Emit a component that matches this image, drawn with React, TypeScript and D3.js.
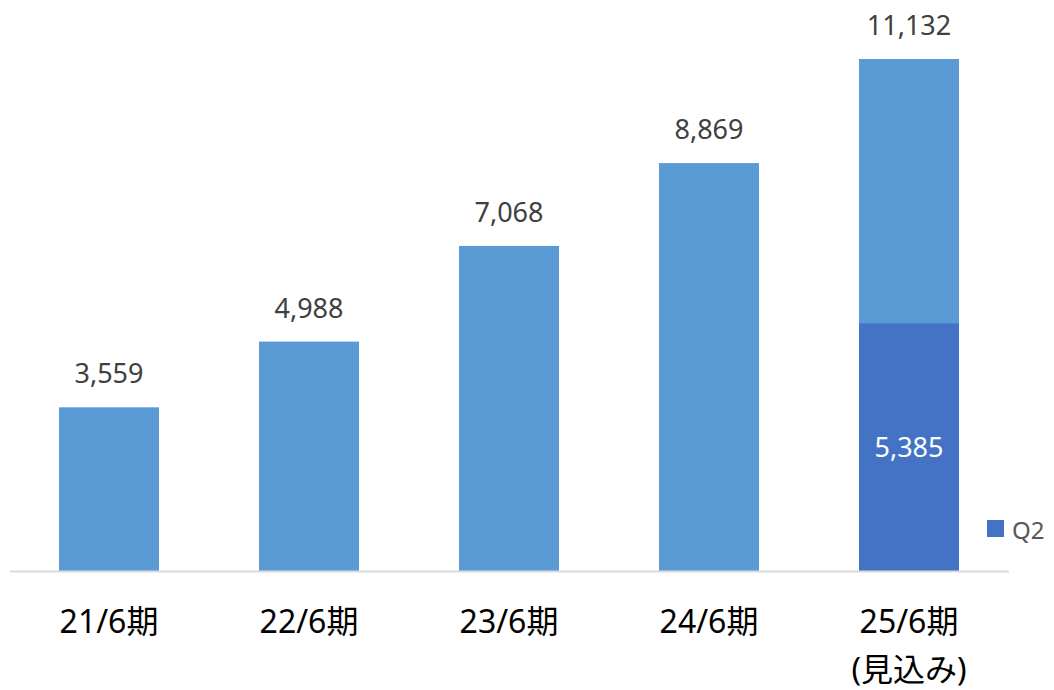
import React from "react";
import * as d3 from "d3";

const categories = ["21/6期", "22/6期", "23/6期", "24/6期", "25/6期"];
const subLabels = ["", "", "", "", "(見込み)"];
const totals = [3559, 4988, 7068, 8869, 11132];
const q2Values = [null, null, null, null, 5385];
const legendLabel = "Q2";

const W = 1054;
const H = 690;
const FONT = "'Noto Sans', 'Noto Sans CJK JP', sans-serif";

export default function App() {
  const x = d3.scaleBand<string>().domain(categories).range([9, 1009]).paddingInner(0.5).paddingOuter(0.25);
  const y = d3.scaleLinear().domain([0, 11132]).range([571, 59]);
  const bw = x.bandwidth();
  return (
    <svg width={W} height={H} style={{ position: "absolute", left: 0, top: 0 }} fontFamily={FONT}>
      {categories.map((c, i) => {
        const x0 = x(c)!;
        const q = q2Values[i];
        return (
          <g key={c}>
            <rect x={x0} y={y(totals[i])} width={bw} height={y(0) - y(totals[i])} fill="#5B9BD5" />
            {q != null && (
              <>
                <rect x={x0} y={y(q)} width={bw} height={y(0) - y(q)} fill="#4472C4" />
                <text x={x0 + bw / 2} y={(y(q) + y(0)) / 2 + 10} textAnchor="middle" fontSize={27} fill="#ffffff">
                  {d3.format(",")(q)}
                </text>
              </>
            )}
            <text x={x0 + bw / 2} y={y(totals[i]) - 24} textAnchor="middle" fontSize={27} fill="#404040">
              {d3.format(",")(totals[i])}
            </text>
            <text x={x0 + bw / 2} y={633} textAnchor="middle" fontSize={32} fill="#000000">
              {c}
            </text>
            {subLabels[i] && (
              <text x={x0 + bw / 2} y={681} textAnchor="middle" fontSize={32} fill="#000000">
                {subLabels[i]}
              </text>
            )}
          </g>
        );
      })}
      <line x1={10} x2={1009} y1={y(0) + 0.5} y2={y(0) + 0.5} stroke="#D9D9D9" strokeWidth={2} />
      <rect x={987} y={520} width={17} height={17} fill="#4472C4" />
      <text x={1012} y={539} fontSize={24} fill="#595959">{legendLabel}</text>
    </svg>
  );
}
